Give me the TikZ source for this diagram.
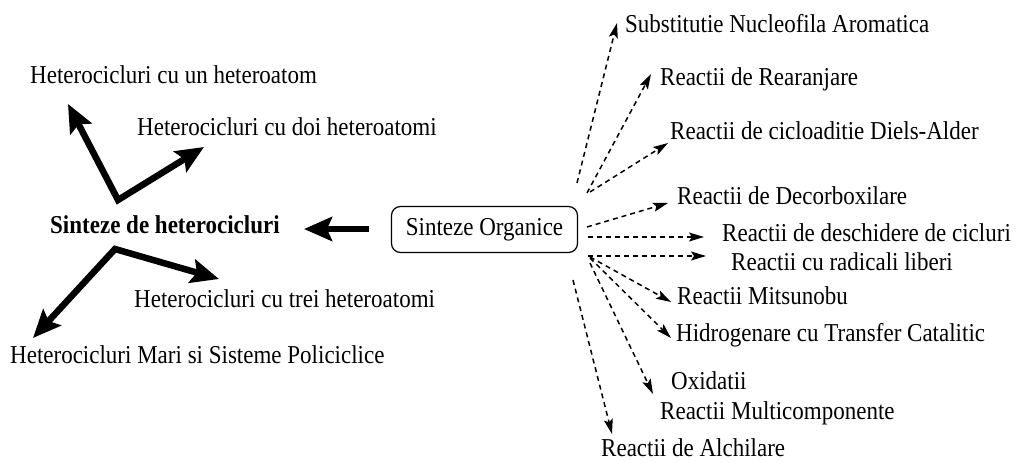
\documentclass[tikz,border=0pt]{standalone}
\usepackage{fontspec}
\usepackage{graphicx}
\setmainfont{Liberation Serif}
\usetikzlibrary{arrows.meta}
\newcommand{\vtx}[1]{\scalebox{1}[1.12]{#1}}
\begin{document}
\begin{tikzpicture}[x=1pt,y=-1pt,
  lbl/.style={anchor=base west,inner sep=0pt,font=\fontsize{23}{27}\selectfont},
  thick arrow/.style={line width=6.5pt,-{Stealth[length=28pt,width=24pt,inset=5pt]}},
  both arrow/.style={line width=6.5pt,{Stealth[length=28pt,width=24pt,inset=5pt]}-{Stealth[length=28pt,width=24pt,inset=5pt]}},
  dash arrow/.style={line width=1.5pt,dash pattern=on 5pt off 4pt,-{Stealth[length=15pt,width=9pt,inset=3pt]}},
  obox/.style={draw,line width=1.2pt,rounded corners=9pt,minimum width=186pt,minimum height=46pt,inner sep=0pt,font=\fontsize{23}{27}\selectfont}]
\useasboundingbox (0,0) rectangle (1018,462);
% left texts
\node[lbl] (h1) at (30,84) {\vtx{Heterocicluri cu un heteroatom}};
\node[lbl] (h2) at (137,136) {\vtx{Heterocicluri cu doi heteroatomi}};
\node[lbl,font=\fontsize{23}{27}\selectfont\bfseries] (sh) at (50,234) {\vtx{Sinteze de heterocicluri}};
\node[lbl] (h3) at (134,308) {\vtx{Heterocicluri cu trei heteroatomi}};
\node[lbl] (h4) at (10,363) {\vtx{Heterocicluri Mari si Sisteme Policiclice}};
% center box
\node[obox] (so) at (484.5,229.5) {\vtx{Sinteze Organice}};
% right texts
\node[lbl] (r1) at (625,33) {\vtx{Substitutie Nucleofila Aromatica}};
\node[lbl] (r2) at (660,86) {\vtx{Reactii de Rearanjare}};
\node[lbl] (r3) at (670,140) {\vtx{Reactii de cicloaditie Diels-Alder}};
\node[lbl] (r4) at (677,205) {\vtx{Reactii de Decorboxilare}};
\node[lbl] (r5) at (722,242) {\vtx{Reactii de deschidere de cicluri}};
\node[lbl] (r6) at (731,271) {\vtx{Reactii cu radicali liberi}};
\node[lbl] (r7) at (677,305) {\vtx{Reactii Mitsunobu}};
\node[lbl] (r8) at (676,342) {\vtx{Hidrogenare cu Transfer Catalitic}};
\node[lbl] (r9) at (671,389) {\vtx{Oxidatii}};
\node[lbl] (r10) at (660,420) {\vtx{Reactii Multicomponente}};
\node[lbl] (r11) at (601,456) {\vtx{Reactii de Alchilare}};
% thick arrows
\coordinate (v1) at (118,200);
\coordinate (t1) at (68,104);
\coordinate (t2) at (204,147);
\coordinate (v2) at (115,249);
\coordinate (t3) at (219,279);
\coordinate (t4) at (33,338);
\coordinate (s0) at (369,229);
\coordinate (s1) at (304,229);
\draw[both arrow,line join=miter] (t1) -- (v1) -- (t2);
\draw[both arrow,line join=miter] (t4) -- (v2) -- (t3);
\draw[thick arrow] (s0) -- (s1);
% dashed arrows
\coordinate (d1) at (577,183); \coordinate (e1) at (617,23);
\coordinate (d2) at (587,193); \coordinate (e2) at (651,74);
\coordinate (d3) at (590,192); \coordinate (e3) at (668,143);
\coordinate (d4) at (587,227); \coordinate (e4) at (668,203);
\coordinate (d5) at (588,237); \coordinate (e5) at (704,237);
\coordinate (d6) at (588,256); \coordinate (e6) at (706,256);
\coordinate (d7) at (590,257); \coordinate (e7) at (671,302);
\coordinate (d8) at (590,258); \coordinate (e8) at (671,338);
\coordinate (d9) at (590,263); \coordinate (e9) at (653,394);
\coordinate (d10) at (573,280); \coordinate (e10) at (612,434);
\foreach \i in {1,...,10} \draw[dash arrow] (d\i) -- (e\i);
\end{tikzpicture}
\end{document}
